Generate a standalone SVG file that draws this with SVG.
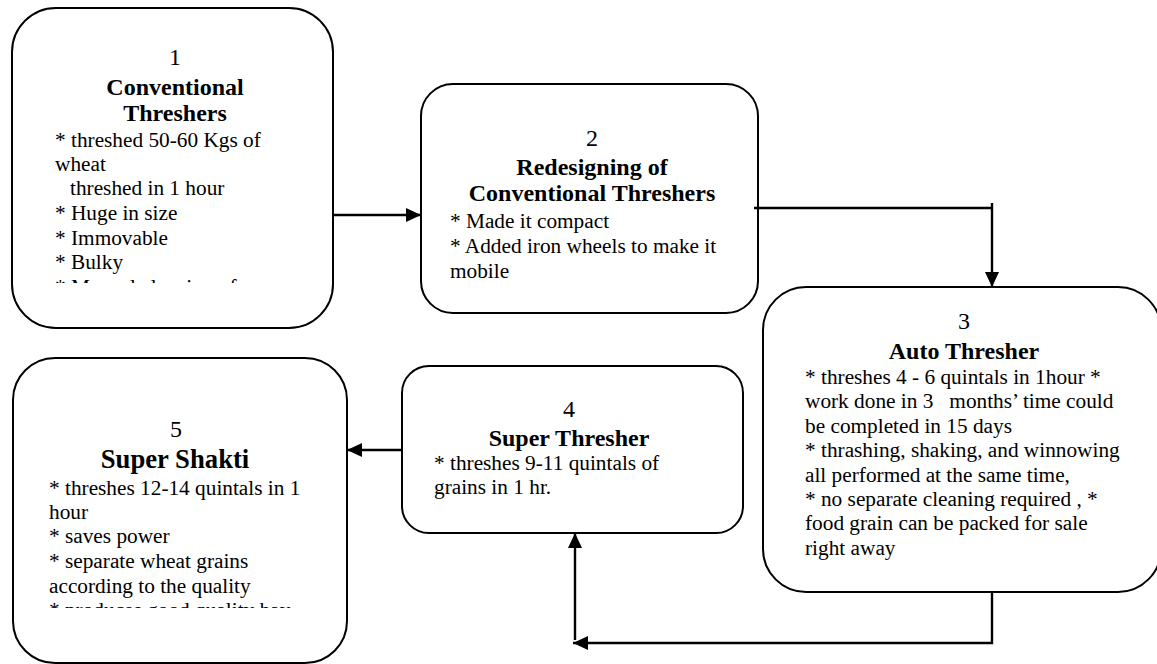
<svg xmlns="http://www.w3.org/2000/svg" width="1157" height="664" viewBox="0 0 1157 664">
  <defs>
    <marker id="arrow" viewBox="0 0 15 14" refX="15" refY="7" markerWidth="15" markerHeight="14" markerUnits="userSpaceOnUse" orient="auto">
      <path d="M0,0 L15,7 L0,14 z" fill="#000000"/>
    </marker>
    <clipPath id="clip1"><rect x="14" y="10" width="318" height="273"/></clipPath>
    <clipPath id="clip5"><rect x="14" y="360" width="331" height="248"/></clipPath>
  </defs>

  <rect width="1157" height="664" fill="#ffffff"/>

  <!-- Step 1 -->
  <g id="node-1" font-family="serif" fill="#000">
    <rect x="12" y="8" width="321" height="320" rx="44" ry="44" fill="#fff" stroke="#000" stroke-width="2"/>
    <g clip-path="url(#clip1)">
      <text x="175" y="65" font-size="24" text-anchor="middle">1</text>
      <text x="175" y="95" font-size="24" font-weight="bold" text-anchor="middle">Conventional</text>
      <text x="175" y="121" font-size="24" font-weight="bold" text-anchor="middle">Threshers</text>
      <g font-size="21.3">
        <text x="55" y="147">* threshed 50-60 Kgs of</text>
        <text x="55" y="171">wheat</text>
        <text x="70" y="195">threshed in 1 hour</text>
        <text x="55" y="220">* Huge in size</text>
        <text x="55" y="245">* Immovable</text>
        <text x="55" y="269">* Bulky</text>
        <text x="55" y="294">* Manual cleaning of</text>
      </g>
    </g>
  </g>

  <!-- Step 2 -->
  <g id="node-2" font-family="serif" fill="#000">
    <rect x="421" y="84" width="337" height="229" rx="32" ry="32" fill="#fff" stroke="#000" stroke-width="2"/>
    <text x="592" y="146" font-size="24" text-anchor="middle">2</text>
    <text x="592" y="175" font-size="24" font-weight="bold" text-anchor="middle">Redesigning of</text>
    <text x="592" y="201" font-size="24" font-weight="bold" text-anchor="middle">Conventional Threshers</text>
    <g font-size="21.3">
      <text x="450" y="228">* Made it compact</text>
      <text x="450" y="253">* Added iron wheels to make it</text>
      <text x="450" y="278">mobile</text>
    </g>
  </g>

  <!-- Step 3 -->
  <g id="node-3" font-family="serif" fill="#000">
    <rect x="763" y="287" width="398" height="305" rx="43" ry="43" fill="#fff" stroke="#000" stroke-width="2"/>
    <text x="964" y="329" font-size="24" text-anchor="middle">3</text>
    <text x="964" y="359" font-size="24" font-weight="bold" text-anchor="middle">Auto Thresher</text>
    <g font-size="21.3">
      <text x="805" y="384">* threshes 4 - 6 quintals in 1hour *</text>
      <text x="805" y="408" xml:space="preserve">work done in 3   months&#8217; time could</text>
      <text x="805" y="433">be completed in 15 days</text>
      <text x="805" y="457">* thrashing, shaking, and winnowing</text>
      <text x="805" y="482">all performed at the same time,</text>
      <text x="805" y="506">* no separate cleaning required , *</text>
      <text x="805" y="530">food grain can be packed for sale</text>
      <text x="805" y="555">right away</text>
    </g>
  </g>

  <!-- Step 4 -->
  <g id="node-4" font-family="serif" fill="#000">
    <rect x="402" y="366" width="341" height="167" rx="27" ry="27" fill="#fff" stroke="#000" stroke-width="2"/>
    <text x="569" y="417" font-size="24" text-anchor="middle">4</text>
    <text x="569" y="446" font-size="24" font-weight="bold" text-anchor="middle">Super Thresher</text>
    <g font-size="21.3">
      <text x="434" y="470">* threshes 9-11 quintals of</text>
      <text x="434" y="494">grains in 1 hr.</text>
    </g>
  </g>

  <!-- Step 5 -->
  <g id="node-5" font-family="serif" fill="#000">
    <rect x="13" y="358" width="334" height="305" rx="42" ry="42" fill="#fff" stroke="#000" stroke-width="2"/>
    <g clip-path="url(#clip5)">
      <text x="176" y="437" font-size="24" text-anchor="middle">5</text>
      <text x="175" y="468" font-size="26.7" font-weight="bold" text-anchor="middle">Super Shakti</text>
      <g font-size="21.3">
        <text x="49" y="495">* threshes 12-14 quintals in 1</text>
        <text x="49" y="519">hour</text>
        <text x="49" y="543">* saves power</text>
        <text x="49" y="568">* separate wheat grains</text>
        <text x="49" y="593">according to the quality</text>
        <text x="49" y="617">* produces good quality hay</text>
      </g>
    </g>
  </g>

  <!-- Connectors -->
  <g id="connectors" fill="none" stroke="#000" stroke-width="2.4">
    <path d="M333,215 H421" marker-end="url(#arrow)"/>
    <path d="M754,208 H992 M992,203 V287" marker-end="url(#arrow)"/>
    <path d="M992,592 V643 H573" marker-end="url(#arrow)"/>
    <path d="M575,640 V533" marker-end="url(#arrow)"/>
    <path d="M402,450 H347" marker-end="url(#arrow)"/>
  </g>
</svg>
